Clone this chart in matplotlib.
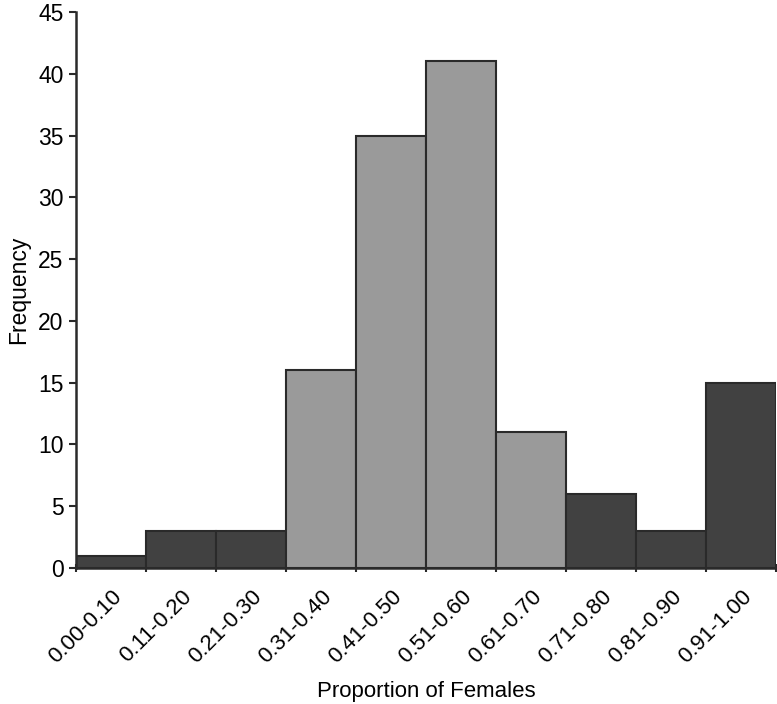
import matplotlib
matplotlib.use('Agg')
import matplotlib.pyplot as plt
import numpy as np

# data
bins = ['0.00-0.10', '0.11-0.20', '0.21-0.30', '0.31-0.40', '0.41-0.50',
        '0.51-0.60', '0.61-0.70', '0.71-0.80', '0.81-0.90', '0.91-1.00']
freq = [1, 3, 3, 16, 35, 41, 11, 6, 3, 15]
shade = ['dark', 'dark', 'dark', 'light', 'light', 'light', 'light', 'dark', 'dark', 'dark']

plt.rcParams['font.family'] = ['Liberation Sans', 'DejaVu Sans']

fig = plt.figure(figsize=(7.77, 7.04), dpi=100)
ax = fig.add_axes([76 / 777, 1 - 568 / 704, 700 / 777, 556 / 704])

colors = {'dark': '#414141', 'light': '#9a9a9a'}
x = np.arange(len(bins))
ax.bar(x, freq, width=1.0, color=[colors[s] for s in shade],
       edgecolor='#2a2a2a', linewidth=1.5, zorder=2)

ax.set_xlim(-0.5, len(bins) - 0.5)
ax.set_ylim(0, 45)
ax.set_yticks(np.arange(0, 46, 5))

# labels at bar centres, tick marks at bar edges
ax.set_xticks(x)
ax.set_xticklabels(bins, rotation=45, ha='right', rotation_mode='anchor', fontsize=16)
ax.set_xticks(np.arange(-0.5, len(bins)), minor=True)
ax.tick_params(axis='x', which='major', length=0, pad=13)
ax.tick_params(axis='x', which='minor', length=6, width=1.5, direction='inout', color='#2a2a2a')
ax.tick_params(axis='y', length=5, width=1.5, direction='out', color='#2a2a2a', labelsize=16.5, pad=4)

for side in ['top', 'right']:
    ax.spines[side].set_visible(False)
for side in ['left', 'bottom']:
    ax.spines[side].set_linewidth(1.8)
    ax.spines[side].set_color('#2a2a2a')

ax.set_ylabel('Frequency', fontsize=16.5, labelpad=6)
ax.set_xlabel('Proportion of Females', fontsize=16, labelpad=10)

plt.savefig('out.png', dpi=100)
